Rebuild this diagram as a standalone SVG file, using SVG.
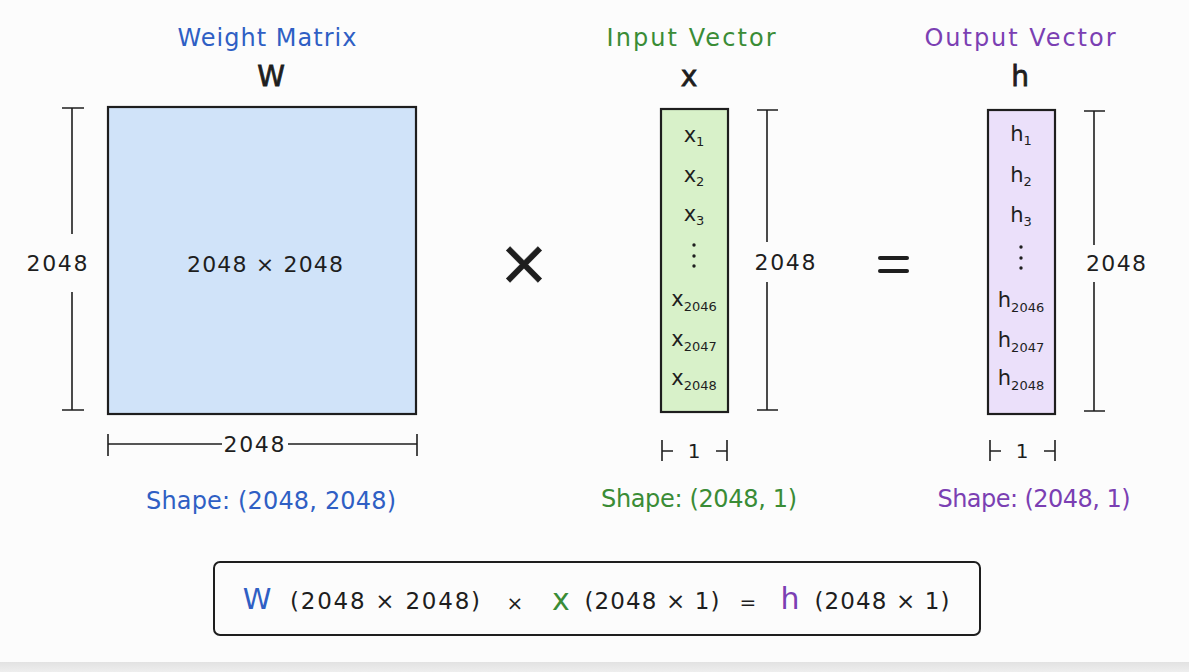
<svg xmlns="http://www.w3.org/2000/svg" width="1189" height="672" viewBox="0 0 1189 672">
<defs>
<linearGradient id="band" x1="0" y1="0" x2="0" y2="1">
<stop offset="0" stop-color="#e2e2e2"/>
<stop offset="1" stop-color="#eeeeee"/>
</linearGradient>
</defs>
<style>
text{font-family:"DejaVu Sans","Liberation Sans",sans-serif;fill:#1e1e1e;text-anchor:middle;dominant-baseline:central}
.box{stroke:#1e1e1e;stroke-width:2.2}
.dim{stroke:#1e1e1e;stroke-width:1.6;fill:none}
.blue{fill:#2f5fc4}
.green{fill:#3a8c36}
.purple{fill:#7b3fb3}
.t22{font-size:22px}
.el{font-size:21px}
.sub{font-size:13px}
.hdr{font-size:28px;stroke:#1e1e1e;stroke-width:0.8}
.op{stroke:#1e1e1e;stroke-width:4;stroke-linecap:round;fill:none}
</style>
<rect width="1189" height="672" fill="#fcfcfc"/>
<rect x="0" y="662" width="1189" height="10" fill="url(#band)"/>

<g id="weight-matrix">
<text class="blue" x="267" y="38" font-size="24" textLength="179">Weight Matrix</text>
<text class="hdr" x="271" y="76">W</text>
<rect class="box" x="108" y="107" width="308" height="307" fill="#d0e3f9"/>
<text x="265" y="264" class="t22" textLength="156">2048 × 2048</text>
<text x="57" y="263" class="t22" textLength="61">2048</text>
<text x="254" y="444" class="t22" textLength="61">2048</text>
<text class="blue" x="271" y="501" font-size="24" textLength="250">Shape: (2048, 2048)</text>
</g>

<g id="times-sign">
<text x="524" y="262" font-size="62" stroke="#1e1e1e" stroke-width="0.8">×</text>
</g>

<g id="input-vector">
<text class="green" x="691" y="38" font-size="24" textLength="169">Input Vector</text>
<text class="hdr" x="689" y="76">x</text>
<rect class="box" x="661" y="109" width="67" height="303" fill="#d8f1c9"/>
<text class="el" x="694" y="135">x<tspan class="sub" dy="6">1</tspan></text>
<text class="el" x="694" y="175">x<tspan class="sub" dy="6">2</tspan></text>
<text class="el" x="694" y="214">x<tspan class="sub" dy="6">3</tspan></text>
<g fill="#1e1e1e"><circle cx="694" cy="245" r="1.7"/><circle cx="694" cy="256" r="1.7"/><circle cx="694" cy="266" r="1.7"/></g>
<text class="el" x="694" y="299">x<tspan class="sub" dy="7">2046</tspan></text>
<text class="el" x="694" y="339">x<tspan class="sub" dy="7">2047</tspan></text>
<text class="el" x="694" y="378">x<tspan class="sub" dy="7">2048</tspan></text>
<text x="785" y="262" class="t22" textLength="61">2048</text>
<text x="694" y="451" font-size="20">1</text>
<text class="green" x="699" y="499" font-size="24" textLength="196">Shape: (2048, 1)</text>
</g>

<g id="equals-sign">
<line class="op" x1="880" y1="258" x2="907" y2="258"/>
<line class="op" x1="880" y1="271" x2="907" y2="271"/>
</g>

<g id="output-vector">
<text class="purple" x="1020" y="38" font-size="24" textLength="191">Output Vector</text>
<text class="hdr" x="1020" y="76">h</text>
<rect class="box" x="988" y="110" width="67" height="304" fill="#ebe0fa"/>
<text class="el" x="1021" y="134">h<tspan class="sub" dy="6">1</tspan></text>
<text class="el" x="1021" y="175">h<tspan class="sub" dy="6">2</tspan></text>
<text class="el" x="1021" y="215">h<tspan class="sub" dy="6">3</tspan></text>
<g fill="#1e1e1e"><circle cx="1021" cy="247" r="1.7"/><circle cx="1021" cy="258" r="1.7"/><circle cx="1021" cy="268" r="1.7"/></g>
<text class="el" x="1021" y="300">h<tspan class="sub" dy="7">2046</tspan></text>
<text class="el" x="1021" y="340">h<tspan class="sub" dy="7">2047</tspan></text>
<text class="el" x="1021" y="378">h<tspan class="sub" dy="7">2048</tspan></text>
<text x="1116" y="263" class="t22" textLength="60">2048</text>
<text x="1022" y="451" font-size="20">1</text>
<text class="purple" x="1034" y="499" font-size="24" textLength="193">Shape: (2048, 1)</text>
</g>

<g id="connectors">
<path class="dim" d="M72 108 V234 M72 292 V410 M62 108 H84 M62 410 H84"/>
<path class="dim" d="M108 444 H222 M288 444 H417 M108 434 V456 M417 434 V456"/>
<path class="dim" d="M767 110 V242 M767 282 V410 M757 110 H778 M757 410 H778"/>
<path class="dim" d="M662 440 V461 M662 451 H673 M727 440 V461 M716 451 H727"/>
<path class="dim" d="M1094 111 V245 M1094 282 V411 M1084 111 H1105 M1084 411 H1105"/>
<path class="dim" d="M990 440 V461 M990 451 H1001 M1055 440 V461 M1044 451 H1055"/>
</g>

<g id="formula">
<rect x="214" y="562" width="766" height="73" rx="6" fill="#fcfcfc" stroke="#1e1e1e" stroke-width="2"/>
<text class="blue" x="257" y="599" font-size="29">W</text>
<text x="385" y="601" font-size="23" textLength="190">(2048 × 2048)</text>
<text x="515" y="603" font-size="20">×</text>
<text class="green" x="561" y="599" font-size="30">x</text>
<text x="652" y="601" font-size="23" textLength="135">(2048 × 1)</text>
<text x="748" y="602" font-size="20">=</text>
<text class="purple" x="790" y="598" font-size="30">h</text>
<text x="882" y="601" font-size="23" textLength="135">(2048 × 1)</text>
</g>
</svg>
